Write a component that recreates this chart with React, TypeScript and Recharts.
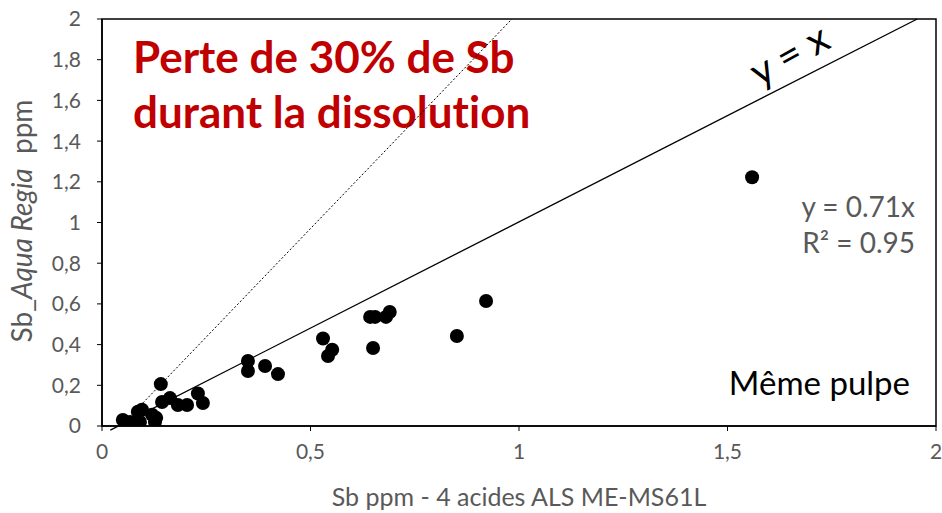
import React from 'react';
import {
  ScatterChart,
  Scatter,
  XAxis,
  YAxis,
  ReferenceLine,
  ReferenceArea,
  Customized,
} from 'recharts';

// Sb (ppm) measured by 4-acid digestion (ALS ME-MS61L)
const sbFourAcid = [
  0.05, 0.067, 0.086, 0.096, 0.091, 0.12, 0.13, 0.127, 0.141, 0.144,
  0.163, 0.182, 0.204, 0.23, 0.242, 0.35, 0.35, 0.391, 0.422, 0.53,
  0.552, 0.542, 0.643, 0.655, 0.69, 0.681, 0.65, 0.851, 0.921, 1.559,
];
// Sb (ppm) measured on the same pulp after aqua regia digestion
const sbAquaRegia = [
  0.03, 0.02, 0.07, 0.08, 0.02, 0.055, 0.04, 0.02, 0.206, 0.118,
  0.137, 0.103, 0.103, 0.16, 0.113, 0.32, 0.27, 0.295, 0.255, 0.43,
  0.375, 0.344, 0.536, 0.536, 0.56, 0.536, 0.383, 0.442, 0.614, 1.222,
];

const xTicks = [0, 0.5, 1, 1.5, 2];
const yTicks = [0, 0.2, 0.4, 0.6, 0.8, 1, 1.2, 1.4, 1.6, 1.8, 2];

// 1:1 line and the 30 % loss guide
const oneToOne = [{ x: 0.02, y: -0.02 }, { x: 1.955, y: 2 }];
const lossGuide = [{ x: 0.045, y: 0 }, { x: 0.983, y: 2 }];

const points = sbFourAcid.map((x, i) => ({ x, y: sbAquaRegia[i] }));

const FONT = 'Lato, "Open Sans", sans-serif';
const GREY = '#595959';
const noLig = { fontVariantLigatures: 'none' } as React.CSSProperties;

const fmt = (v: number) => String(Number(v.toFixed(1))).replace('.', ',');

const Dot = (props: any) => <circle cx={props.cx} cy={props.cy} r={7} fill="#000" />;

const Annotations = () => (
  <g fontFamily={FONT} style={noLig}>
    <text x={133} y={73} fontSize={44} fontWeight={700} fill="#C00000">
      Perte de 30% de Sb
    </text>
    <text x={133} y={128} fontSize={44} fontWeight={700} fill="#C00000">
      durant la dissolution
    </text>
    <text x={796} y={67} fontSize={40} fill="#000" textAnchor="middle" transform="rotate(-29 796 67)">
      y = x
    </text>
    <text x={915} y={217} fontSize={28} fill={GREY} textAnchor="end">y = 0.71x</text>
    <text x={915} y={253} fontSize={28} fill={GREY} textAnchor="end">R² = 0.95</text>
    <text x={910} y={395} fontSize={33} fill="#000" textAnchor="end">Même pulpe</text>
    <text x={519} y={506} fontSize={25} fill={GREY} textAnchor="middle">
      Sb ppm - 4 acides ALS ME-MS61L
    </text>
    <text x={32} y={221} fontSize={28} fill={GREY} textAnchor="middle" transform="rotate(-90 32 221)">
      <tspan>Sb_</tspan>
      <tspan fontStyle="italic">Aqua Regia</tspan>
      <tspan>{'\u00a0\u00a0ppm'}</tspan>
    </text>
  </g>
);

export default function App() {
  return (
    <div style={{ position: 'absolute', left: 0, top: 0, width: 942, height: 513, background: '#fff' }}>
      <ScatterChart width={942} height={513} margin={{ top: 19, right: 6, bottom: 0, left: 40 }}>
        <XAxis
          type="number"
          dataKey="x"
          domain={[0, 2]}
          ticks={xTicks}
          tickFormatter={fmt}
          height={87}
          axisLine={{ stroke: '#000', strokeWidth: 1.5 }}
          tickLine={{ stroke: '#000' }}
          tickSize={5}
          tickMargin={13}
          tick={{ fill: GREY, fontSize: 21, fontFamily: FONT }}
          allowDataOverflow
        />
        <YAxis
          type="number"
          dataKey="y"
          domain={[0, 2]}
          ticks={yTicks}
          tickFormatter={fmt}
          width={62}
          axisLine={{ stroke: '#000', strokeWidth: 1.5 }}
          tickLine={{ stroke: '#000' }}
          tickSize={5}
          tickMargin={16}
          tick={{ fill: GREY, fontSize: 21, fontFamily: FONT }}
          allowDataOverflow
        />
        <ReferenceArea x1={0} x2={2} y1={0} y2={2} fill="none" stroke="#000" strokeWidth={1.5} />
        <ReferenceLine segment={lossGuide} stroke="#000" strokeWidth={1} strokeDasharray="2 2" ifOverflow="visible" />
        <ReferenceLine segment={oneToOne} stroke="#000" strokeWidth={1.3} ifOverflow="visible" />
        <Scatter data={points} shape={Dot} isAnimationActive={false} />
        <Customized component={Annotations} />
      </ScatterChart>
    </div>
  );
}
